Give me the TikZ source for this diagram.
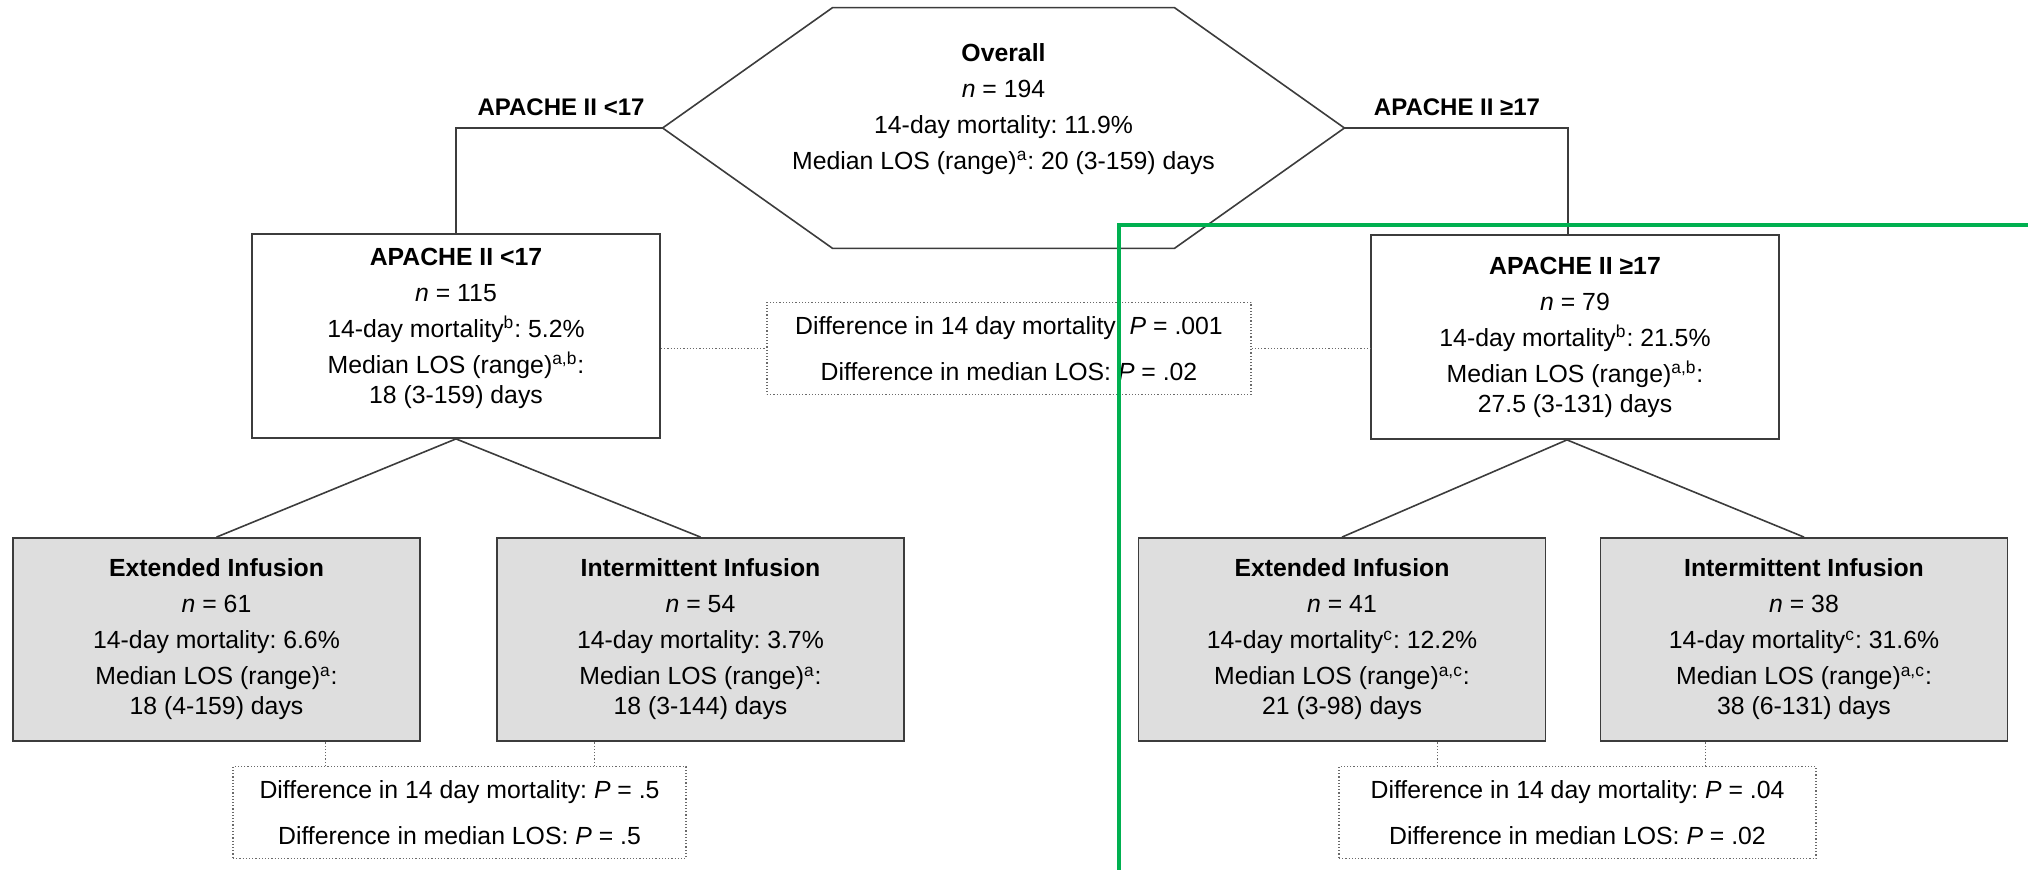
\documentclass[tikz,border=0pt]{standalone}
\usepackage{fontspec}
\setmainfont{Liberation Sans}
\usepackage{tikz}
\usetikzlibrary{positioning}
\definecolor{boxgray}{HTML}{DEDEDE}
\definecolor{linegray}{HTML}{3C3C3C}
\definecolor{dotgray}{HTML}{6A6A6A}
\definecolor{markgreen}{HTML}{00B050}
\frenchspacing

\begin{document}
\begin{tikzpicture}[x=0.5pt,y=-0.5pt]
      \tikzstyle{txt} = [font=\fontsize{12.4}{18}\selectfont, align=center, inner sep=0pt]
      \tikzstyle{cbox} = [txt, draw=linegray, line width=0.9pt, fill=white, minimum width=204pt, minimum height=102pt]
      \tikzstyle{gbox} = [cbox, fill=boxgray, minimum width=203.5pt, minimum height=101.5pt]
      \tikzstyle{pbox} = [txt, draw=dotgray, densely dotted, line width=0.6pt, minimum height=46pt]
      \tikzstyle{lbl} = [txt, font=\fontsize{12}{14}\selectfont\bfseries]
      \tikzstyle{cline} = [draw=linegray, line width=0.8pt]
      \tikzstyle{dline} = [draw=dotgray, densely dotted, line width=0.6pt]
      \useasboundingbox (0,0) rectangle (2028,870);

      \node[minimum width=340.5pt, minimum height=120pt, inner sep=0pt] (ovr) at (1003.5,128) {};
      \draw[cline] (ovr.west) -- ([xshift=85pt]ovr.north west) -- ([xshift=-85pt]ovr.north east)
        -- (ovr.east) -- ([xshift=-85pt]ovr.south east) -- ([xshift=85pt]ovr.south west) -- cycle;
      \node[txt] (ovrtxt) at (1003.5,109) {\textbf{Overall}\\ \textit{n} = 194\\ 14-day mortality: 11.9\%\\
        Median LOS (range)\textsuperscript{a}: 20 (3-159) days};

      \node[lbl] (lbllo) at (561,107) {APACHE II <17};
      \node[lbl] (lblhi) at (1457,107) {APACHE II ≥17};

      \node[cbox] (lo) at (456,336) {\textbf{APACHE II <17}\\ \textit{n} = 115\\ 14-day mortality\textsuperscript{b}: 5.2\%\\
        Median LOS (range)\textsuperscript{a,b}:\\[-3pt] 18 (3-159) days\\[-8pt]\mbox{}};
      \node[cbox] (hi) at (1575,337) {\textbf{APACHE II ≥17}\\ \textit{n} = 79\\ 14-day mortality\textsuperscript{b}: 21.5\%\\
        Median LOS (range)\textsuperscript{a,b}:\\[-3pt] 27.5 (3-131) days};
      \node[pbox, minimum width=242pt] (mid) at (1009,348.5) {Difference in 14 day mortality: \textit{P} = .001\\[5pt]
        Difference in median LOS: \textit{P} = .02};

      \node[gbox] (loext) at (216.5,639.5) {\textbf{Extended Infusion}\\ \textit{n} = 61\\ 14-day mortality: 6.6\%\\
        Median LOS (range)\textsuperscript{a}:\\[-3pt] 18 (4-159) days};
      \node[gbox] (loint) at (700.5,639.5) {\textbf{Intermittent Infusion}\\ \textit{n} = 54\\ 14-day mortality: 3.7\%\\
        Median LOS (range)\textsuperscript{a}:\\[-3pt] 18 (3-144) days};
      \node[gbox] (hiext) at (1342,639.5) {\textbf{Extended Infusion}\\ \textit{n} = 41\\ 14-day mortality\textsuperscript{c}: 12.2\%\\
        Median LOS (range)\textsuperscript{a,c}:\\[-3pt] 21 (3-98) days};
      \node[gbox] (hiint) at (1804,639.5) {\textbf{Intermittent Infusion}\\ \textit{n} = 38\\ 14-day mortality\textsuperscript{c}: 31.6\%\\
        Median LOS (range)\textsuperscript{a,c}:\\[-3pt] 38 (6-131) days};

      \node[pbox, minimum width=226.5pt] (lodiff) at (459.5,812.5) {Difference in 14 day mortality: \textit{P} = .5\\[5pt]
        Difference in median LOS: \textit{P} = .5};
      \node[pbox, minimum width=238.5pt] (hidiff) at (1577.5,812.5) {Difference in 14 day mortality: \textit{P} = .04\\[5pt]
        Difference in median LOS: \textit{P} = .02};

      \draw[cline] (ovr.west) -| (lo.north);
      \draw[cline] (ovr.east) -| ([xshift=-3.5pt]hi.north);

      \draw[cline] (lo.south) -- (loext.north);
      \draw[cline] (lo.south) -- (loint.north);
      \draw[cline] ([xshift=-4pt]hi.south) -- (hiext.north);
      \draw[cline] ([xshift=-4pt]hi.south) -- (hiint.north);

      \draw[dline] (lo.east |- mid.west) -- (mid.west);
      \draw[dline] (mid.east) -- (hi.west |- mid.east);
      \draw[dline] ([xshift=-67pt]lodiff.north) -- ([xshift=-67pt]lodiff.north |- loext.south);
      \draw[dline] ([xshift=67.5pt]lodiff.north) -- ([xshift=67.5pt]lodiff.north |- loint.south);
      \draw[dline] ([xshift=-70pt]hidiff.north) -- ([xshift=-70pt]hidiff.north |- hiext.south);
      \draw[dline] ([xshift=64pt]hidiff.north) -- ([xshift=64pt]hidiff.north |- hiint.south);

      \draw[markgreen, line width=2pt] (1119,870) -- (1119,225) -- (2028,225);
    \end{tikzpicture}
\end{document}
